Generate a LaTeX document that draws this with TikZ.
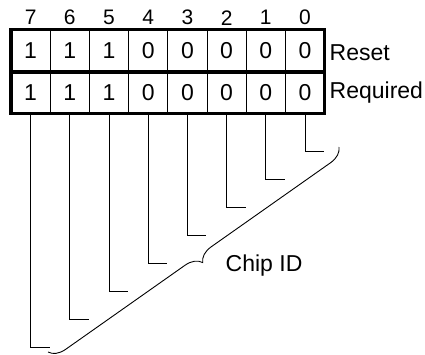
\documentclass[tikz,border=0pt]{standalone}
\usepackage{fontspec}
\setmainfont{Liberation Sans}
\usetikzlibrary{decorations.pathreplacing}

\begin{document}
\begin{tikzpicture}[x=1pt,y=1pt]
\tikzset{every node/.style={inner sep=0pt},
  bitno/.style={font=\fontsize{21}{23}\selectfont},
  bitval/.style={font=\fontsize{23}{25}\selectfont},
  rowname/.style={font=\fontsize{23}{25}\selectfont, anchor=west}}
\useasboundingbox (0,0) rectangle (425,354);
% register
\draw [line width=3.6pt] (11,240.5) rectangle (324.6,324.3);
\draw [line width=3.6pt] (11,282) -- (324.6,282);
\foreach \x in {50.2,89.4,128.6,167.8,207,246.2,285.4}
  \draw [line width=1pt] (\x,240.5) -- (\x,324.3);
\node [bitno] (n7) at (30.6,336.3) {7};
\node [bitno] (n6) at (69.8,336.3) {6};
\node [bitno] (n5) at (109,336.3) {5};
\node [bitno] (n4) at (148.2,336.3) {4};
\node [bitno] (n3) at (187.4,336.3) {3};
\node [bitno] (n2) at (226.6,336.3) {2};
\node [bitno] (n1) at (265.8,336.3) {1};
\node [bitno] (n0) at (305,336.3) {0};
\node [bitval] (r7) at (30.6,303.2) {1};
\node [bitval] (r6) at (69.8,303.2) {1};
\node [bitval] (r5) at (109,303.2) {1};
\node [bitval] (r4) at (148.2,303.2) {0};
\node [bitval] (r3) at (187.4,303.2) {0};
\node [bitval] (r2) at (226.6,303.2) {0};
\node [bitval] (r1) at (265.8,303.2) {0};
\node [bitval] (r0) at (305,303.2) {0};
\node [bitval] (q7) at (30.6,261.2) {1};
\node [bitval] (q6) at (69.8,261.2) {1};
\node [bitval] (q5) at (109,261.2) {1};
\node [bitval] (q4) at (148.2,261.2) {0};
\node [bitval] (q3) at (187.4,261.2) {0};
\node [bitval] (q2) at (226.6,261.2) {0};
\node [bitval] (q1) at (265.8,261.2) {0};
\node [bitval] (q0) at (305,261.2) {0};
\node [rowname] (reset) at (329.5,301) {Reset};
\node [rowname] (required) at (329.5,261) {Required};
% leads to the chip id
\coordinate (top) at (0,240.5);
\coordinate (e0) at (324,202.5);
\coordinate (e1) at (284.8,174.5);
\coordinate (e2) at (245.6,146.5);
\coordinate (e3) at (206.4,118.5);
\coordinate (e4) at (167.2,90.5);
\coordinate (e5) at (128,62.5);
\coordinate (e6) at (88.8,34.5);
\coordinate (e7) at (49.6,6.5);
\draw [line width=1pt] (q0 |- top) |- (e0);
\draw [line width=1pt] (q1 |- top) |- (e1);
\draw [line width=1pt] (q2 |- top) |- (e2);
\draw [line width=1pt] (q3 |- top) |- (e3);
\draw [line width=1pt] (q4 |- top) |- (e4);
\draw [line width=1pt] (q5 |- top) |- (e5);
\draw [line width=1pt] (q6 |- top) |- (e6);
\draw [line width=1pt] (q7 |- top) |- (e7);
\coordinate (b1) at (339,207);
\coordinate (b2) at (48,2);
\draw [line width=0.9pt, decorate, decoration={brace, amplitude=16pt}] (b1) -- (b2);
\node [rowname] (chip) at (225.5,88) {Chip ID};
\end{tikzpicture}
\end{document}
